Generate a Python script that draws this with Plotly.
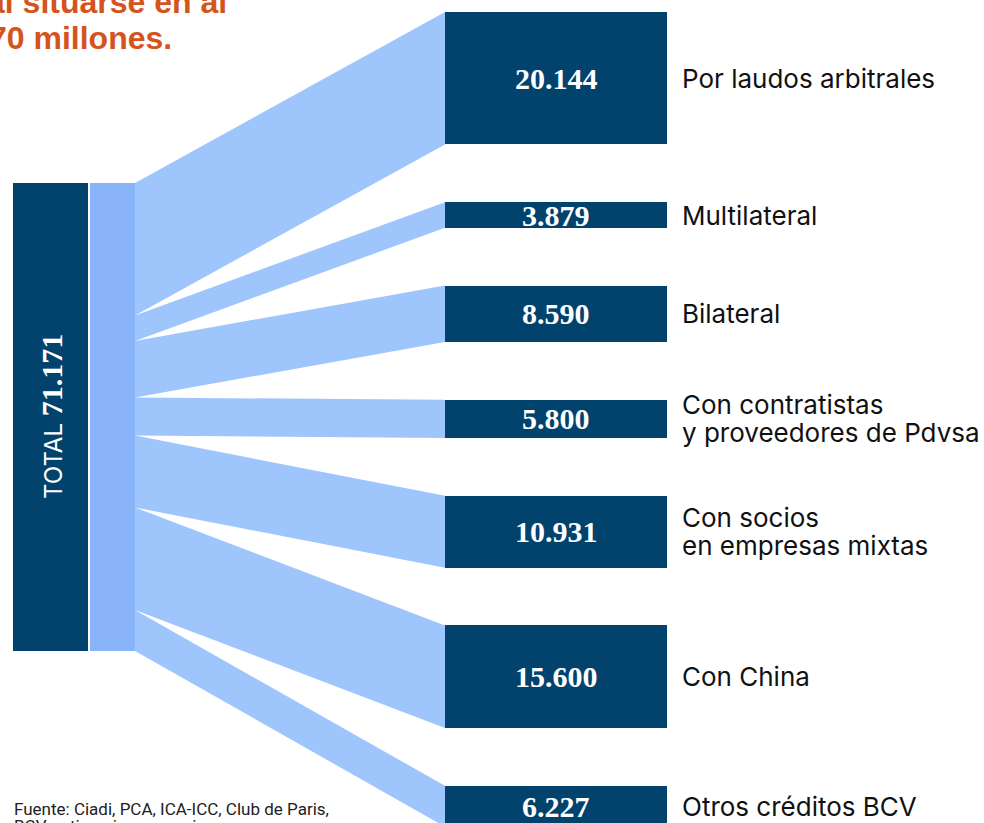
import plotly.graph_objects as go

# ---- data ----
categories = ["Por laudos arbitrales", "Multilateral", "Bilateral",
              "Con contratistas<br>y proveedores de Pdvsa",
              "Con socios<br>en empresas mixtas", "Con China", "Otros créditos BCV"]
values = [20.144, 3.879, 8.590, 5.800, 10.931, 15.600, 6.227]
value_labels = ["20.144", "3.879", "8.590", "5.800", "10.931", "15.600", "6.227"]
total = 71.171
total_label = "71.171"
title_lines = ["al situarse en al", "70 millones."]
source_lines = ["Fuente: Ciadi, PCA, ICA-ICC, Club de Paris,", "BCV, estimaciones propias"]

# ---- layout constants (pixels -> units) ----
W, H = 984, 823
PX_PER_UNIT = 468 / total
YMAX = H / PX_PER_UNIT
left_top = 183 / PX_PER_UNIT
right_top = 12 / PX_PER_UNIT
gap = 57.8 / PX_PER_UNIT

def u(px):
    return px / PX_PER_UNIT

DARK = "#02436e"
BAR = "#89b4fa"
LINK = "#9fc5fd"

right_tops = []
y = right_top
for v in values:
    right_tops.append(y)
    y += v + gap
src_tops = []
y = left_top
for v in values:
    src_tops.append(y)
    y += v

x_src, x_dst = 135, 445
fig = go.Figure()

for st, dt, v in zip(src_tops, right_tops, values):
    fig.add_trace(go.Scatter(
        x=[x_src, x_dst, x_dst, x_src, x_src],
        y=[st, dt, dt + v, st + v, st],
        mode="lines", fill="toself", fillcolor=LINK,
        line=dict(width=0, color=LINK), hoverinfo="skip", showlegend=False))

fig.add_trace(go.Bar(x=[50.5], width=[75], base=[left_top], y=[total],
                     marker=dict(color=DARK, line=dict(width=0)), showlegend=False))
fig.add_trace(go.Bar(x=[112.5], width=[45], base=[left_top], y=[total],
                     marker=dict(color=BAR, line=dict(width=0)), showlegend=False))
fig.add_trace(go.Bar(x=[556] * len(values), width=[222] * len(values),
                     base=right_tops, y=values,
                     marker=dict(color=DARK, line=dict(width=0)), showlegend=False))

ann = []
LINE = 28
for t, v, lab, cat in zip(right_tops, values, value_labels, categories):
    c = t + v / 2
    ann.append(dict(x=556, y=c, text=f"<b>{lab}</b>", showarrow=False,
                    xanchor="center", yanchor="middle",
                    font=dict(family="Liberation Serif", size=30, color="white")))
    lines = cat.split("<br>")
    n = len(lines)
    for i, ln in enumerate(lines):
        ann.append(dict(x=680, y=c + u((i - (n - 1) / 2) * LINE), text=ln, showarrow=False,
                        xanchor="left", yanchor="middle", align="left",
                        font=dict(family="Inter", size=26, color="#111111")))

ann.append(dict(x=51, y=left_top + total / 2,
                text=f"TOTAL <b><span style='font-family:Liberation Serif;font-size:30px'>{total_label}</span></b>",
                textangle=-90, showarrow=False, xanchor="center", yanchor="middle",
                font=dict(family="Inter", size=24, color="white")))

ann.append(dict(x=229, y=u(22), text=f"<b>{title_lines[0]}</b>", showarrow=False,
                xanchor="right", yanchor="bottom",
                font=dict(family="Liberation Sans", size=32, color="#d4541c")))
ann.append(dict(x=174, y=u(58), text=f"<b>{title_lines[1]}</b>", showarrow=False,
                xanchor="right", yanchor="bottom",
                font=dict(family="Liberation Sans", size=32, color="#d4541c")))
ann.append(dict(x=12, y=u(809), text=source_lines[0], showarrow=False,
                xanchor="left", yanchor="middle", align="left",
                font=dict(family="Roboto", size=17, color="#222222")))
ann.append(dict(x=12, y=u(814), text=source_lines[1], showarrow=False,
                xanchor="left", yanchor="top", align="left",
                font=dict(family="Roboto", size=17, color="#222222")))

for a in ann:
    a["xref"] = "x"
    a["yref"] = "y"

fig.update_layout(
    width=W, height=H, margin=dict(l=0, r=0, t=0, b=0),
    paper_bgcolor="white", plot_bgcolor="white",
    barmode="overlay", bargap=0,
    xaxis=dict(range=[0, W], visible=False, fixedrange=True),
    yaxis=dict(range=[YMAX, 0], visible=False, fixedrange=True),
    annotations=ann, showlegend=False,
)
fig.write_html("out.html")
